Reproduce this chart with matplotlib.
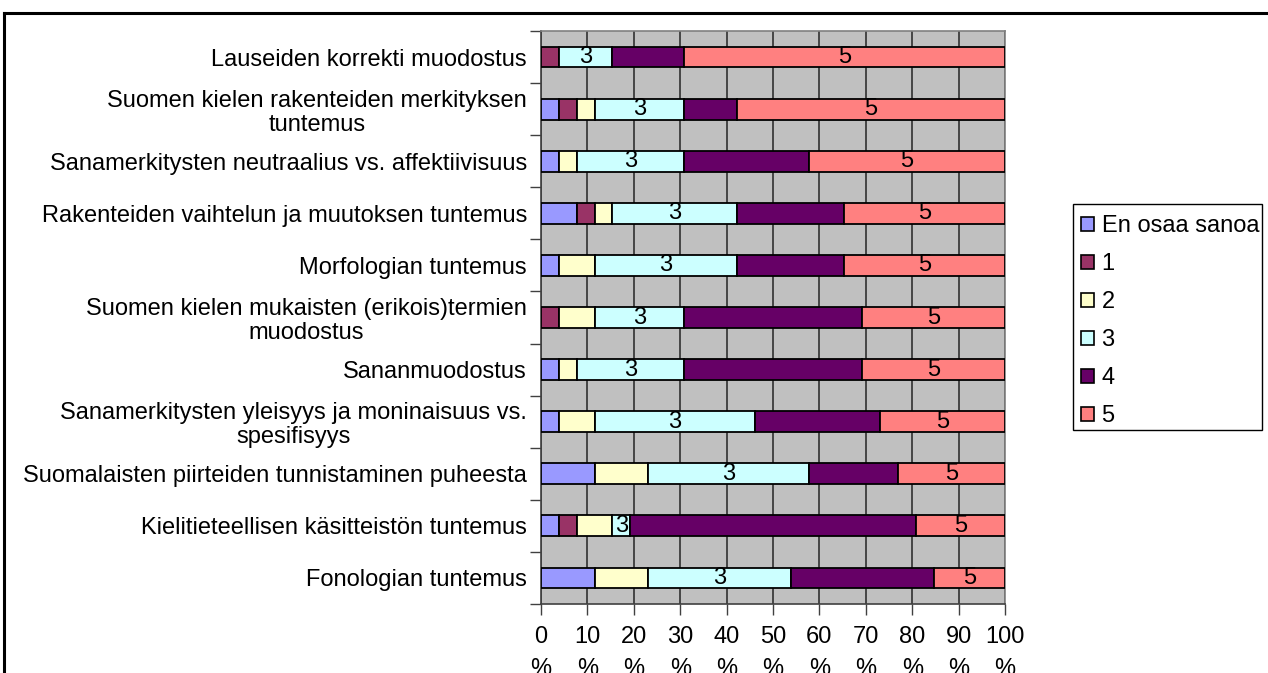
import numpy as np
import matplotlib
matplotlib.use("Agg")
import matplotlib.pyplot as plt
from matplotlib.lines import Line2D
from matplotlib.patches import Patch, Rectangle

plt.rcParams['font.family'] = ['Liberation Sans', 'DejaVu Sans']

categories = [
    "Lauseiden korrekti muodostus",
    "Suomen kielen rakenteiden merkityksen\ntuntemus",
    "Sanamerkitysten neutraalius vs. affektiivisuus",
    "Rakenteiden vaihtelun ja muutoksen tuntemus",
    "Morfologian tuntemus",
    "Suomen kielen mukaisten (erikois)termien\nmuodostus",
    "Sananmuodostus",
    "Sanamerkitysten yleisyys ja moninaisuus vs.\nspesifisyys",
    "Suomalaisten piirteiden tunnistaminen puheesta",
    "Kielitieteellisen käsitteistön tuntemus",
    "Fonologian tuntemus",
]
series_names = ["En osaa sanoa", "1", "2", "3", "4", "5"]
# answer counts per category
en_osaa = [0, 1, 1, 2, 1, 0, 1, 1, 3, 1, 3]
s1 = [1, 1, 0, 1, 0, 1, 0, 0, 0, 1, 0]
s2 = [0, 1, 1, 1, 2, 2, 1, 2, 3, 2, 3]
s3 = [3, 5, 6, 7, 8, 5, 6, 9, 9, 1, 8]
s4 = [4, 3, 7, 6, 6, 10, 10, 7, 5, 16, 8]
s5 = [18, 15, 11, 9, 9, 8, 8, 7, 6, 5, 4]
colors = ["#9999FF", "#993366", "#FFFFCC", "#CCFFFF", "#660066", "#FF8080"]
xtick_vals = [0, 10, 20, 30, 40, 50, 60, 70, 80, 90, 100]
labelled_series = ["3", "5"]

FS = 17
W, H = 1268, 673
fig = plt.figure(figsize=(W / 100, H / 100), dpi=100)
x0, x1, ytop, ybot = 541, 1005, 31, 604
ax = fig.add_axes([x0 / W, 1 - ybot / H, (x1 - x0) / W, (ybot - ytop) / H])
ax.set_facecolor("#C0C0C0")

counts = np.array([en_osaa, s1, s2, s3, s4, s5], dtype=float)
pct = counts / counts.sum(axis=0) * 100
n = len(categories)
y = np.arange(n)
left = np.zeros(n)
for i, name in enumerate(series_names):
    ax.barh(y, pct[i], left=left, height=0.4, color=colors[i],
            edgecolor="black", linewidth=1.3, zorder=3, label=name)
    if name in labelled_series:
        for j in range(n):
            if pct[i][j] > 0:
                ax.text(left[j] + pct[i][j] / 2, y[j], name, ha="center",
                        va="center", fontsize=FS, zorder=4)
    left = left + pct[i]

ax.set_xlim(0, 100)
ax.set_ylim(n - 0.5, -0.5)
ax.set_xticks(xtick_vals)
ax.set_xticklabels([f"{v}\n%" for v in xtick_vals], fontsize=FS, linespacing=1.55)
ax.tick_params(axis="x", direction="out", length=8, width=1, color="#404040", pad=8)
ax.xaxis.grid(True, color="#303030", linewidth=1.2, zorder=1)
ax.set_axisbelow(True)

ax.set_yticks(np.arange(n + 1) - 0.5)
ax.set_yticklabels([])
ax.set_yticks(y, minor=True)
ax.set_yticklabels(categories, minor=True, fontsize=FS)
ax.tick_params(axis="y", which="major", direction="out", length=8, width=1, color="#404040")
ax.tick_params(axis="y", which="minor", length=0, pad=10)
for lbl in ax.get_yticklabels(minor=True):
    lbl.set_multialignment("center")
    lbl.set_linespacing(1.12)

for s in ["top", "right"]:
    ax.spines[s].set_color("#808080")
    ax.spines[s].set_linewidth(1.2)
for s in ["left", "bottom"]:
    ax.spines[s].set_color("#404040")
    ax.spines[s].set_linewidth(1.2)

# legend: entries without frame, frame drawn as a separate box
handles = [Patch(facecolor=c, edgecolor="black", linewidth=1.2) for c in colors]
leg = fig.legend(handles, series_names, loc="upper left",
                 bbox_to_anchor=(1081 / W, 1 - 215 / H), fontsize=FS,
                 frameon=False, handlelength=0.55, handleheight=0.55,
                 handletextpad=0.32, labelspacing=0.68, borderpad=0,
                 borderaxespad=0)
fig.add_artist(Rectangle((1073 / W, 1 - 430 / H), (1262 - 1073) / W, (430 - 204) / H,
                         transform=fig.transFigure, facecolor="none",
                         edgecolor="black", linewidth=1.0))

# outer chart frame (cut off at the right and bottom)
fig.add_artist(Line2D([4 / W, 1.0], [1 - 13 / H, 1 - 13 / H], color="black",
                      linewidth=2.2, transform=fig.transFigure))
fig.add_artist(Line2D([4 / W, 4 / W], [1 - 13 / H, 0.0], color="black",
                      linewidth=2.2, transform=fig.transFigure))

fig.savefig("out.png", dpi=100)
